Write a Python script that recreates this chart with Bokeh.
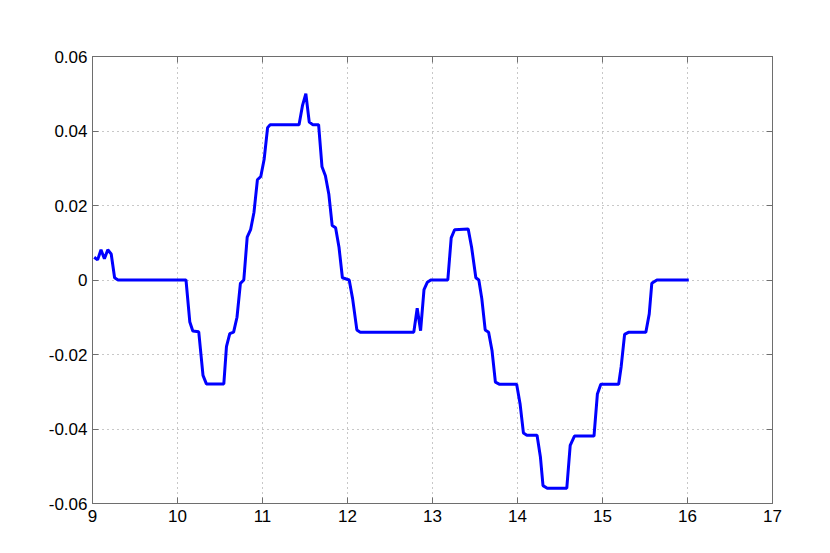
from bokeh.plotting import figure
from bokeh.models import LinearAxis, FixedTicker, Range1d, CustomJSTickFormatter
from bokeh.embed import file_html
from bokeh.resources import INLINE

x_vals = [9.02, 9.06, 9.10, 9.14, 9.18, 9.22, 9.26, 9.30, 10.10, 10.145, 10.18, 10.25,
          10.30, 10.34, 10.545, 10.576, 10.615, 10.66, 10.70, 10.74, 10.78, 10.82,
          10.86, 10.90, 10.94, 10.98, 11.02, 11.06, 11.09, 11.43, 11.47, 11.51, 11.55,
          11.59, 11.66, 11.70, 11.74, 11.78, 11.82, 11.86, 11.90, 11.94, 12.02, 12.06,
          12.11, 12.15, 12.78, 12.82, 12.86, 12.90, 12.94, 12.98, 13.18, 13.22, 13.26,
          13.42, 13.46, 13.51, 13.545, 13.58, 13.62, 13.66, 13.70, 13.74, 13.79, 13.99,
          14.03, 14.07, 14.11, 14.23, 14.27, 14.30, 14.35, 14.58, 14.62, 14.67, 14.90,
          14.94, 14.98, 15.19, 15.22, 15.26, 15.31, 15.51, 15.55, 15.58, 15.64, 16.015]
y_vals = [0.0061, 0.0054, 0.0081, 0.0057, 0.0081, 0.0070, 0.0006, 0.0, 0.0, -0.0113,
          -0.0137, -0.0139, -0.0256, -0.0279, -0.0279, -0.0179, -0.0144, -0.0140, -0.0100,
          -0.0009, 0.0, 0.0115, 0.0135, 0.0182, 0.0269, 0.0278, 0.0325, 0.0409, 0.0417,
          0.0417, 0.0468, 0.0500, 0.0424, 0.0417, 0.0417, 0.0304, 0.0280, 0.0231, 0.0146,
          0.0140, 0.0088, 0.0006, 0.0, -0.0050, -0.0134, -0.0140, -0.0140, -0.0076,
          -0.0136, -0.0026, -0.0006, 0.0, 0.0, 0.0113, 0.0135, 0.0137, 0.0088, 0.0006,
          0.0, -0.0050, -0.0134, -0.0140, -0.0189, -0.0274, -0.0280, -0.0280, -0.0332,
          -0.0411, -0.0417, -0.0417, -0.0476, -0.0552, -0.0559, -0.0559, -0.0444,
          -0.0419, -0.0419, -0.0306, -0.0280, -0.0280, -0.0232, -0.0146, -0.0140,
          -0.0140, -0.0091, -0.0009, 0.0, 0.0]

x_ticks = [9, 10, 11, 12, 13, 14, 15, 16, 17]
y_ticks = [-0.06, -0.04, -0.02, 0, 0.02, 0.04, 0.06]
y_labels = ["-0.06", "-0.04", "-0.02", "0", "0.02", "0.04", "0.06"]

FONT = "Liberation Sans"
AX = "#6e6e6e"

p = figure(width=822, height=545, output_backend="svg", toolbar_location=None,
           x_range=Range1d(9, 17), y_range=Range1d(-0.06, 0.06),
           min_border_left=92, min_border_right=50, min_border_top=56, min_border_bottom=42,
           x_axis_location=None, y_axis_location=None)
p.outline_line_color = AX
p.outline_line_width = 1
p.background_fill_color = "white"
p.border_fill_color = "white"

def style(ax, labels=True):
    ax.major_tick_in = 6
    ax.major_tick_out = 0
    ax.minor_tick_in = 0
    ax.minor_tick_out = 0
    ax.axis_line_color = AX
    ax.major_tick_line_color = AX
    ax.major_label_text_font = FONT
    ax.major_label_text_font_size = "17px"
    ax.major_label_text_color = "black"
    if not labels:
        ax.formatter = CustomJSTickFormatter(code="return '';")

xb = LinearAxis(ticker=FixedTicker(ticks=x_ticks))
style(xb)
xb.major_label_standoff = 6
p.add_layout(xb, "below")
xt = LinearAxis(ticker=FixedTicker(ticks=x_ticks))
style(xt, False)
p.add_layout(xt, "above")

yl = LinearAxis(ticker=FixedTicker(ticks=y_ticks))
style(yl)
yl.major_label_overrides = {t: l for t, l in zip(y_ticks, y_labels)}
yl.major_label_standoff = 5
p.add_layout(yl, "left")
yr = LinearAxis(ticker=FixedTicker(ticks=y_ticks))
style(yr, False)
p.add_layout(yr, "right")

p.xgrid.ticker = FixedTicker(ticks=x_ticks)
p.ygrid.ticker = FixedTicker(ticks=y_ticks)
for g in (p.xgrid, p.ygrid):
    g.grid_line_color = "#909090"
    g.grid_line_dash = "1 4"
    g.grid_line_width = 1

p.line(x_vals, y_vals, line_color="#0000ff", line_width=3)

open("out.html", "w").write(file_html(p, INLINE))
